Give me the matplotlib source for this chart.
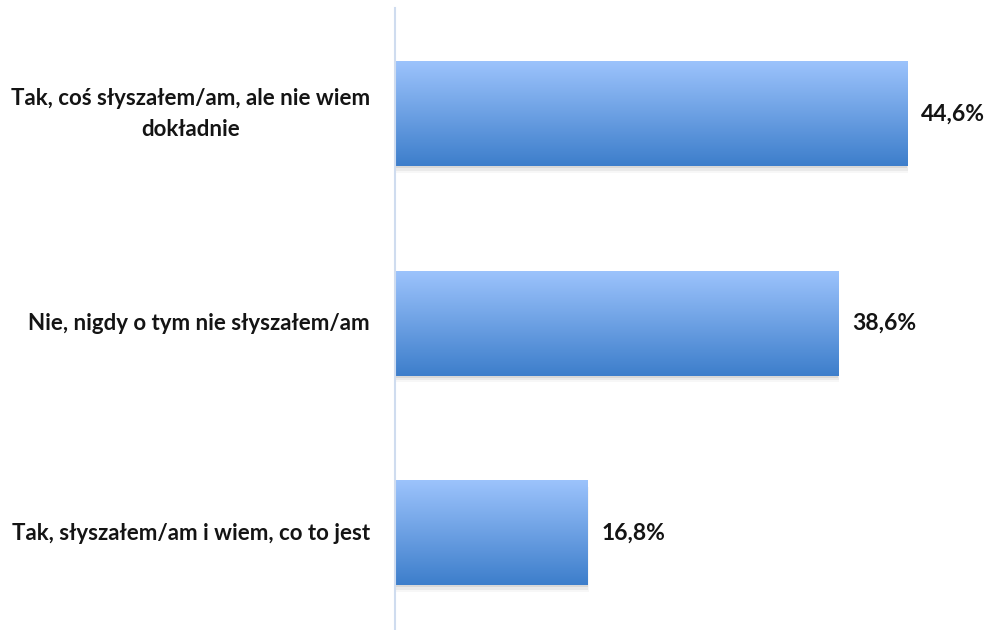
import matplotlib.pyplot as plt
import matplotlib.patches as mpatches
import numpy as np
from matplotlib.colors import LinearSegmentedColormap

categories = [
    "Tak, coś słyszałem/am, ale nie wiem\ndokładnie",
    "Nie, nigdy o tym nie słyszałem/am",
    "Tak, słyszałem/am i wiem, co to jest",
]
values = [44.6, 38.6, 16.8]
value_labels = ["44,6%", "38,6%", "16,8%"]

plt.rcParams['font.family'] = ['Lato', 'DejaVu Sans']

fig = plt.figure(figsize=(9.87, 6.3), dpi=100)
ax = fig.add_axes([395 / 987, 0, 592 / 987, 622 / 630])

bar_h = 0.5
ypos = np.arange(len(values))
grad = LinearSegmentedColormap.from_list("bar", ["#9cc3fc", "#3d7ecb"])
g = np.linspace(0, 1, 256).reshape(-1, 1)

for y, v, lab in zip(ypos, values, value_labels):
    # soft drop shadow under the bar
    for k, a in enumerate([0.07, 0.05, 0.03]):
        d = 0.005 * (k + 1)
        ax.add_patch(mpatches.Rectangle((0, y - bar_h / 2 + d * 2), v + d * 5, bar_h,
                                        facecolor="#000000", alpha=a, lw=0, zorder=1))
    ax.imshow(g, cmap=grad, aspect="auto", extent=(0, v, y + bar_h / 2, y - bar_h / 2),
              zorder=2, interpolation="bilinear")
    ax.text(v + 1.2, y, lab, ha="left", va="center", fontsize=16.5,
            fontweight="bold", color="#141414")

for y, c in zip(ypos, categories):
    ax.annotate(c, xy=(0, y), xycoords="data", xytext=(-25, 0), textcoords="offset pixels",
                ha="right", va="center", multialignment="center", fontsize=16,
                fontweight="bold", color="#141414", linespacing=1.55)

ax.set_xlim(0, 592 / 11.48)
ax.set_ylim(2.463, -0.506)
for s in ["top", "right", "bottom"]:
    ax.spines[s].set_visible(False)
ax.spines["left"].set_color("#cfdcef")
ax.spines["left"].set_linewidth(1.5)
ax.set_xticks([])
ax.set_yticks([])

fig.savefig("out.png", dpi=100)
